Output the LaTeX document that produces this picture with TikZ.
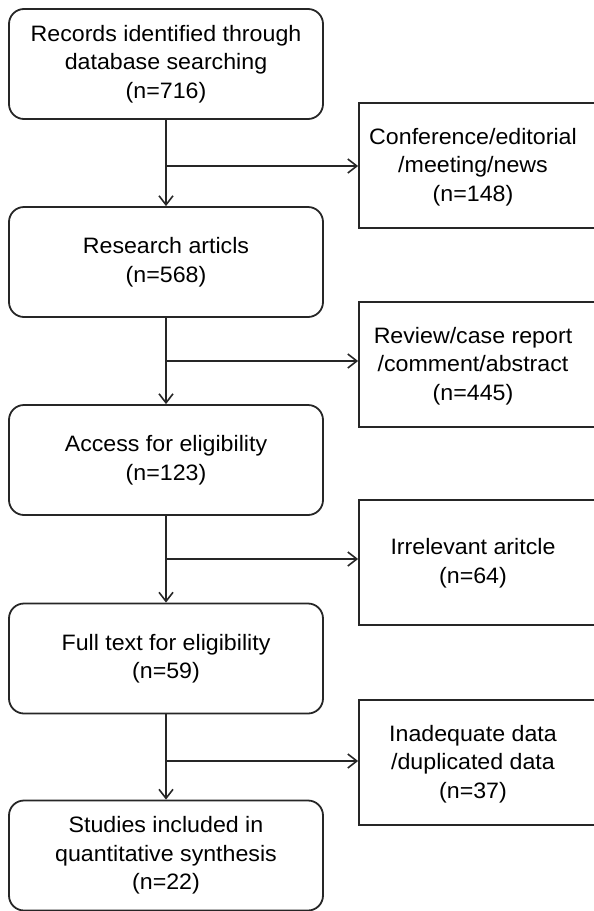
\documentclass[tikz,border=0pt]{standalone}
\usepackage{fontspec}
\setmainfont{Liberation Sans}[FakeStretch=1.04]
\usetikzlibrary{arrows.meta}
\begin{document}
\begin{tikzpicture}[x=1pt,y=-1pt,
  every node/.style={font=\fontsize{22.3}{28.5}\selectfont, text=black, align=center, inner sep=0pt},
  leftbox/.style={draw=black!85, line width=1.8pt, rounded corners=15pt, minimum width=314pt, minimum height=110pt},
  rightbox/.style={draw=black!85, line width=1.8pt, minimum width=240pt, minimum height=125pt},
  conn/.style={draw=black!85, line width=1.8pt, -{Straight Barb[length=9pt,width=14pt,line width=1.6pt]}},
  ]
\useasboundingbox (0,0) rectangle (594,911);
\node[leftbox] (b1) at (166,64) {Records identified through\\database searching\\(n=716)};
\node[leftbox] (b2) at (166,262) {Research articls\\(n=568)};
\node[leftbox] (b3) at (166,460) {Access for eligibility\\(n=123)};
\node[leftbox] (b4) at (166,658.5) {Full text for eligibility\\(n=59)};
\node[leftbox] (b5) at (166,855.5) {Studies included in\\quantitative synthesis\\(n=22)};
\node[rightbox] (r1) at (479,165.5) {};
\node[rightbox] (r2) at (479,364.5) {};
\node[rightbox] (r3) at (479,562.5) {};
\node[rightbox] (r4) at (479,762.5) {};
\node (t1) at (473,167) {Conference/editorial\\/meeting/news\\(n=148)};
\node (t2) at (473,366) {Review/case report\\/comment/abstract\\(n=445)};
\node (t3) at (473,563) {Irrelevant aritcle\\(n=64)};
\node (t4) at (473,764) {Inadequate data\\/duplicated data\\(n=37)};
\coordinate (j1) at (b1.south |- 0,166);
\coordinate (j2) at (b2.south |- 0,361);
\coordinate (j3) at (b3.south |- 0,559);
\coordinate (j4) at (b4.south |- 0,761);
\draw[conn] (b1) -- (b2);
\draw[conn] (b2) -- (b3);
\draw[conn] (b3) -- (b4);
\draw[conn] (b4) -- (b5);
\draw[conn] (j1) -- (r1.west |- j1);
\draw[conn] (j2) -- (r2.west |- j2);
\draw[conn] (j3) -- (r3.west |- j3);
\draw[conn] (j4) -- (r4.west |- j4);
\end{tikzpicture}
\end{document}
